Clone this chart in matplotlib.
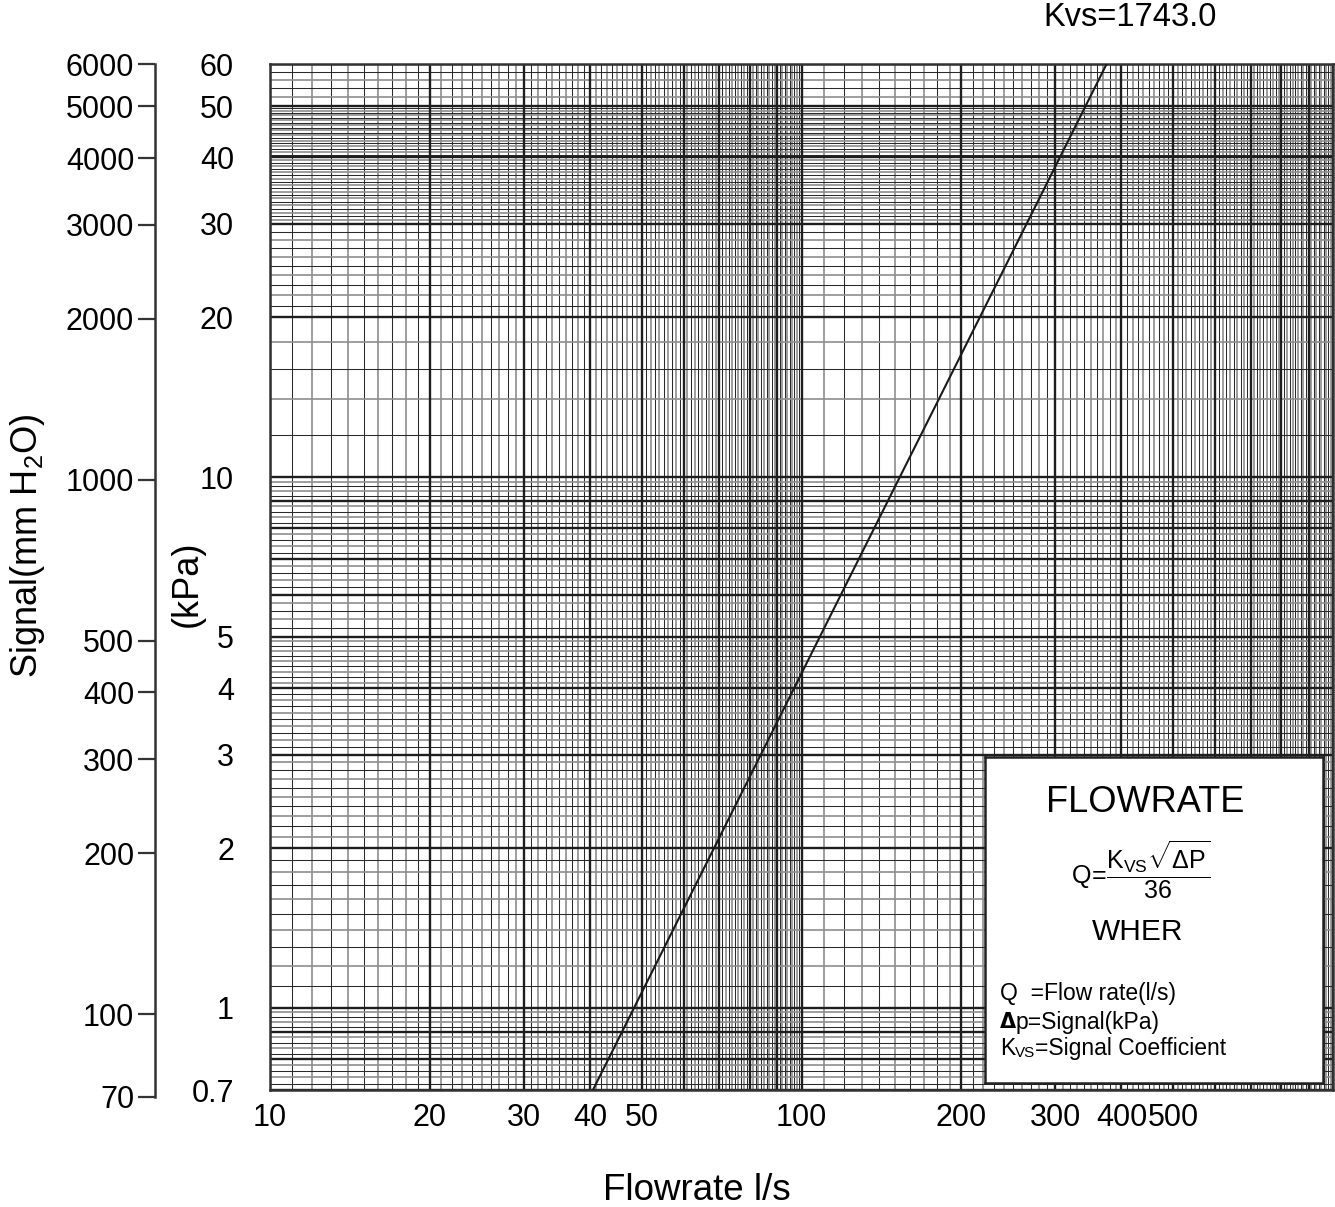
import matplotlib
matplotlib.use("Agg")
import matplotlib.pyplot as plt
import numpy as np

plt.rcParams['font.family'] = ['Liberation Sans', 'DejaVu Sans']
plt.rcParams['mathtext.fontset'] = 'custom'
plt.rcParams['mathtext.rm'] = 'Liberation Sans'
plt.rcParams['mathtext.it'] = 'Liberation Sans'
plt.rcParams['mathtext.bf'] = 'Liberation Sans:bold'

# valve data
KVS = 1743.0
dp_kpa = [0.7, 60.0]          # signal range of the curve (kPa)

# axis scales
x_lim = (10, 1000)
x_ticks = [10, 20, 30, 40, 50, 100, 200, 300, 400, 500]
kpa_lim = (0.7, 60)
kpa_ticks = [0.7, 1, 2, 3, 4, 5, 10, 20, 30, 40, 50, 60]
kpa_labels = ['0.7', '1', '2', '3', '4', '5', '10', '20', '30', '40', '50', '60']
mm_lim = (70, 6000)
mm_ticks = [70, 100, 200, 300, 400, 500, 1000, 2000, 3000, 4000, 5000, 6000]

W, H = 1335, 1207
fig = plt.figure(figsize=(W / 100, H / 100), dpi=100)


def px(x0, y0, x1, y1):
    """figure-fraction rect from pixel box (top-left origin)"""
    return [x0 / W, (H - y1) / H, (x1 - x0) / W, (y1 - y0) / H]


ax = fig.add_axes(px(270, 64, 1333, 1090))
ax.set_xscale('log')
ax.set_yscale('log')
ax.set_xlim(*x_lim)
ax.set_ylim(*kpa_lim)


def grid_values(lo, hi, step_of):
    major, minor = [], []
    d = 10.0 ** np.floor(np.log10(lo))
    while d < hi:
        for m in range(1, 10):
            v = m * d
            if lo <= v <= hi:
                major.append(v)
            st = step_of(d, m)
            n = int(round(1 / st))
            for k in range(1, n):
                w = (m + k * st) * d
                if lo < w < hi:
                    minor.append(w)
        d *= 10
    if hi not in major:
        major.append(hi)
    return major, minor


def x_step(d, m):
    return 0.1


def y_step(d, m):
    if d >= 10:
        return {1: 0.2, 2: 0.1, 3: 0.05, 4: 0.05}.get(m, 0.2)
    return 0.1 if m < 5 else 0.2


# log-paper grid: heavy lines on whole multiples, thin dark/grey between
xmaj, xmin = grid_values(x_lim[0], x_lim[1], x_step)
ymaj, ymin = grid_values(kpa_lim[0], kpa_lim[1], y_step)
for i, v in enumerate(xmin):
    if i % 2:
        ax.axvline(v, color='#8e8e8e', lw=1.2, zorder=1)
    else:
        ax.axvline(v, color='#2a2a2a', lw=0.75, zorder=1)
for i, v in enumerate(ymin):
    if i % 2:
        ax.axhline(v, color='#8e8e8e', lw=1.2, zorder=1)
    else:
        ax.axhline(v, color='#2a2a2a', lw=0.75, zorder=1)
for v in xmaj:
    ax.axvline(v, color='#1e1e1e', lw=1.7, zorder=2)
for v in ymaj:
    ax.axhline(v, color='#1e1e1e', lw=1.7, zorder=2)

# flow curve Q = Kvs * sqrt(dp) / 36
dp = np.array(dp_kpa)
q = KVS * np.sqrt(dp) / 36.0
ax.plot(q, dp, color='#1a1a1a', lw=1.5, zorder=3)

for s in ax.spines.values():
    s.set_linewidth(1.8)
    s.set_color('#333333')

ax.set_xticks(x_ticks)
ax.set_xticklabels([str(t) for t in x_ticks])
ax.set_yticks(kpa_ticks)
ax.set_yticklabels(kpa_labels)
ax.minorticks_off()
ax.tick_params(axis='x', length=0, pad=9, labelsize=22)
ax.tick_params(axis='y', length=0, pad=26, labelsize=22)

# secondary signal scale in mm H2O
ax2 = fig.add_axes(px(155, 64, 156, 1097))
ax2.set_yscale('log')
ax2.set_ylim(*mm_lim)
for k in ('top', 'right', 'bottom'):
    ax2.spines[k].set_visible(False)
ax2.spines['left'].set_linewidth(1.8)
ax2.spines['left'].set_color('#333333')
ax2.patch.set_visible(False)
ax2.set_xticks([])
ax2.set_yticks(mm_ticks)
ax2.set_yticklabels([str(t) for t in mm_ticks])
ax2.minorticks_off()
ax2.tick_params(axis='y', length=12, width=1.6, color='#333333', pad=3, labelsize=22)

fig.text(28 / W, 1 - 546 / H, 'Signal(mm H$_2$O)', rotation=90, ha='center', va='center', fontsize=26)
fig.text(187 / W, 1 - 584 / H, '(kPa)', rotation=90, ha='center', va='center', fontsize=26)
fig.text(697 / W, 1 - 1190 / H, 'Flowrate l/s', ha='center', va='center', fontsize=26.5)
fig.text(1130 / W, 1 - 17 / H, 'Kvs=1743.0', ha='center', va='center', fontsize=23.5)

# formula box
bx = fig.add_axes(px(985, 757, 1323, 1083))
bx.set_xticks([])
bx.set_yticks([])
bx.set_xlim(0, 1)
bx.set_ylim(0, 1)
bx.patch.set_facecolor('white')
for s in bx.spines.values():
    s.set_linewidth(1.8)
    s.set_color('#222222')

bx.text(0.473, 0.859, 'FLOWRATE', ha='center', va='center', fontsize=26)
bx.text(0.46, 0.655, r'$Q\!=\!\dfrac{K_{\mathrm{VS}}\sqrt{\Delta P}}{36}$',
        ha='center', va='center', fontsize=18)
bx.text(0.453, 0.463, 'WHER', ha='center', va='center', fontsize=21.5)

fs = 16.5
bx.text(0.044, 0.276, 'Q  =Flow rate(l/s)', ha='left', va='center', fontsize=fs)
t = bx.text(0.044, 0.186, '\u0394', ha='left', va='center', fontsize=15, fontweight='bold',
            family=['DejaVu Sans'])
bx.annotate('p=Signal(kPa)', xy=(1, 0.5), xycoords=t, ha='left', va='center', fontsize=fs)
t = bx.text(0.044, 0.107, 'K', ha='left', va='center', fontsize=fs)
t2 = bx.annotate('VS', xy=(1, 0), xycoords=t, ha='left', va='bottom', fontsize=11)
bx.annotate('=Signal Coefficient', xy=(1, 0), xycoords=t2, ha='left', va='bottom', fontsize=fs)

fig.savefig('out.png', dpi=100)
